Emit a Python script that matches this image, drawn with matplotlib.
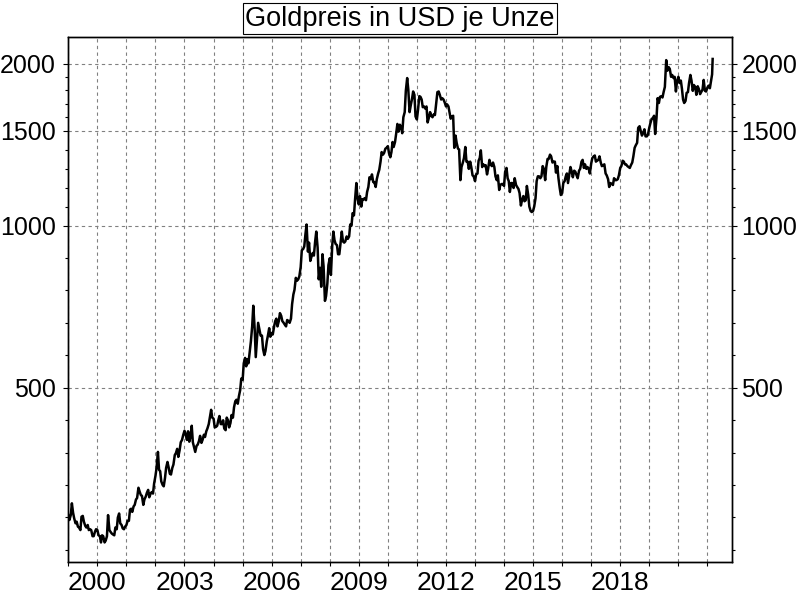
import matplotlib
matplotlib.use('Agg')
import matplotlib.pyplot as plt
import matplotlib.ticker as mticker
import numpy as np
import pandas as pd

plt.rcParams['font.family'] = ['Liberation Sans', 'DejaVu Sans']

# Goldpreis (USD/oz), Werte jeweils zum 1. und 15. des Monats
p2000 = [290, 284, 290, 305, 293, 286, 280, 282, 276, 275, 272, 288, 289, 282, 277, 275, 278, 272, 273, 272, 265, 265, 270, 273]
p2001 = [272, 266, 265, 258, 266, 265, 258, 260, 265, 290, 272, 270, 268, 267, 266, 275, 273, 287, 292, 280, 278, 274, 273, 276]
p2002 = [278, 283, 283, 297, 298, 294, 301, 303, 310, 312, 326, 321, 316, 315, 303, 310, 314, 319, 323, 313, 318, 320, 318, 332]
p2003 = [343, 355, 380, 352, 350, 335, 330, 328, 340, 355, 364, 356, 346, 345, 355, 360, 375, 378, 385, 372, 383, 396, 400, 408]
p2004 = [416, 410, 400, 415, 397, 405, 425, 396, 387, 380, 390, 392, 398, 407, 395, 400, 409, 405, 415, 420, 428, 440, 455, 440]
p2005 = [438, 422, 423, 425, 435, 443, 428, 428, 435, 420, 417, 440, 435, 422, 430, 445, 440, 460, 472, 475, 467, 482, 495, 520]
p2006 = [517, 555, 568, 548, 565, 555, 585, 610, 650, 710, 645, 570, 615, 660, 640, 625, 625, 590, 575, 585, 610, 625, 645, 622]
p2007 = [632, 628, 650, 665, 672, 650, 665, 688, 680, 665, 660, 655, 650, 668, 665, 660, 672, 715, 745, 760, 800, 790, 795, 805]
p2008 = [838, 900, 905, 915, 965, 1005, 895, 930, 860, 875, 890, 880, 935, 975, 910, 795, 835, 770, 885, 840, 725, 740, 780, 845]
p2009 = [870, 810, 920, 975, 940, 925, 920, 885, 885, 925, 975, 935, 930, 935, 955, 945, 955, 1005, 1000, 1055, 1045, 1120, 1200, 1125]
p2010 = [1095, 1135, 1085, 1120, 1118, 1125, 1115, 1155, 1180, 1230, 1220, 1245, 1205, 1205, 1180, 1220, 1250, 1270, 1315, 1370, 1355, 1365, 1390, 1395]
p2011 = [1405, 1365, 1340, 1370, 1430, 1400, 1430, 1480, 1545, 1495, 1540, 1525, 1485, 1590, 1625, 1780, 1880, 1790, 1625, 1670, 1720, 1775, 1750, 1595]
p2012 = [1575, 1640, 1740, 1735, 1715, 1660, 1665, 1650, 1665, 1555, 1590, 1625, 1600, 1590, 1610, 1605, 1690, 1770, 1775, 1750, 1715, 1725, 1715, 1695]
p2013 = [1665, 1680, 1665, 1620, 1580, 1595, 1600, 1395, 1470, 1425, 1390, 1385, 1215, 1285, 1310, 1335, 1400, 1315, 1315, 1275, 1315, 1285, 1240, 1235]
p2014 = [1210, 1245, 1250, 1320, 1335, 1380, 1285, 1300, 1290, 1295, 1245, 1275, 1325, 1300, 1290, 1310, 1285, 1235, 1215, 1240, 1165, 1190, 1195, 1195]
p2015 = [1185, 1260, 1280, 1225, 1210, 1155, 1200, 1200, 1175, 1225, 1190, 1180, 1170, 1150, 1090, 1115, 1135, 1110, 1115, 1185, 1140, 1085, 1065, 1060]
p2016 = [1065, 1085, 1125, 1210, 1235, 1235, 1225, 1235, 1290, 1275, 1215, 1285, 1330, 1330, 1355, 1345, 1310, 1315, 1315, 1255, 1290, 1225, 1175, 1140]
p2017 = [1150, 1200, 1210, 1235, 1250, 1200, 1245, 1285, 1260, 1230, 1265, 1260, 1240, 1225, 1265, 1275, 1315, 1325, 1280, 1300, 1275, 1285, 1275, 1250]
p2018 = [1305, 1335, 1345, 1350, 1315, 1320, 1325, 1345, 1310, 1290, 1295, 1300, 1250, 1240, 1220, 1180, 1200, 1195, 1190, 1225, 1215, 1215, 1220, 1240]
p2019 = [1280, 1290, 1320, 1315, 1300, 1300, 1290, 1285, 1280, 1295, 1310, 1345, 1395, 1410, 1425, 1520, 1530, 1500, 1470, 1485, 1510, 1465, 1465, 1475]
p2020 = [1520, 1550, 1580, 1580, 1600, 1480, 1585, 1725, 1690, 1735, 1740, 1730, 1775, 1810, 2030, 1940, 1970, 1955, 1890, 1905, 1880, 1890, 1775, 1855]
p2021 = [1890, 1840, 1860, 1795, 1715, 1690, 1705, 1765, 1770, 1840, 1905, 1860, 1780, 1825, 1810, 1750, 1815, 1795, 1755, 1770, 1790, 1865, 1780, 1775]
p2022 = [1805, 1820, 1800, 1855, 1910, 2040]

prices = (p2000 + p2001 + p2002 + p2003 + p2004 + p2005 + p2006 + p2007 + p2008
          + p2009 + p2010 + p2011 + p2012 + p2013 + p2014 + p2015 + p2016 + p2017
          + p2018 + p2019 + p2020 + p2021 + p2022)
dates = pd.DatetimeIndex(list(pd.date_range('2000-01-01', '2022-03-01', freq='SMS'))
                         + [pd.Timestamp('2022-03-08')])

y_major = [500, 1000, 1500, 2000]
year_ticks = pd.date_range('2000-01-01', '2022-01-01', freq='YS')

fig = plt.figure(figsize=(8, 6), dpi=100)
ax = fig.add_axes([68.3/800, 1-562.3/600, 664/800, 525/600])

ax.plot(dates.to_numpy(), prices, color='black', lw=1.8)

ax.set_yscale('log')
ax.set_ylim(237, 2238)
ax.set_xlim(pd.Timestamp('2000-01-01'), pd.Timestamp('2022-11-10'))

# minor ticks: equal spacing (in log) inside every major interval
minor = []
for a, b in zip(y_major[:-1], y_major[1:]):
    minor += [a*(b/a)**(k/5) for k in range(1, 5)]
minor += [500*2**(-k/5) for k in range(1, 6)]

def style_y(a, labelleft, labelright, pad):
    a.set_yscale('log')
    a.set_ylim(237, 2238)
    a.yaxis.set_major_locator(mticker.FixedLocator(y_major))
    a.yaxis.set_major_formatter(mticker.FixedFormatter([str(v) for v in y_major]))
    a.yaxis.set_minor_locator(mticker.FixedLocator(minor))
    a.yaxis.set_minor_formatter(mticker.NullFormatter())
    a.tick_params(axis='y', which='major', length=3.6, width=0.8, labelsize=18, pad=pad,
                  left=labelleft, right=labelright, labelleft=labelleft, labelright=labelright)
    a.tick_params(axis='y', which='minor', length=2.4, width=0.8,
                  left=labelleft, right=labelright)

style_y(ax, True, False, 5.5)
ax2 = ax.twinx()
style_y(ax2, False, True, 3)

ax.set_xticks(year_ticks)
labels = []
for d in year_ticks:
    y = d.year - 1
    labels.append(str(y) if 2000 <= y <= 2018 and (y - 2000) % 3 == 0 else '')
ax.set_xticklabels(labels)
ax.tick_params(axis='x', length=3, width=0.8, labelsize=19, pad=3)

ax.grid(True, which='major', color='#808080', linestyle=(0, (3, 3)), lw=0.8)
for a in (ax, ax2):
    for s in a.spines.values():
        s.set_linewidth(1.0)

fig.text(0.5, 1-18.5/600, 'Goldpreis in USD je Unze', ha='center', va='center', fontsize=19.5,
         bbox=dict(boxstyle='square,pad=0.1', fc='white', ec='black', lw=0.8))

fig.savefig('out.png', dpi=100)
